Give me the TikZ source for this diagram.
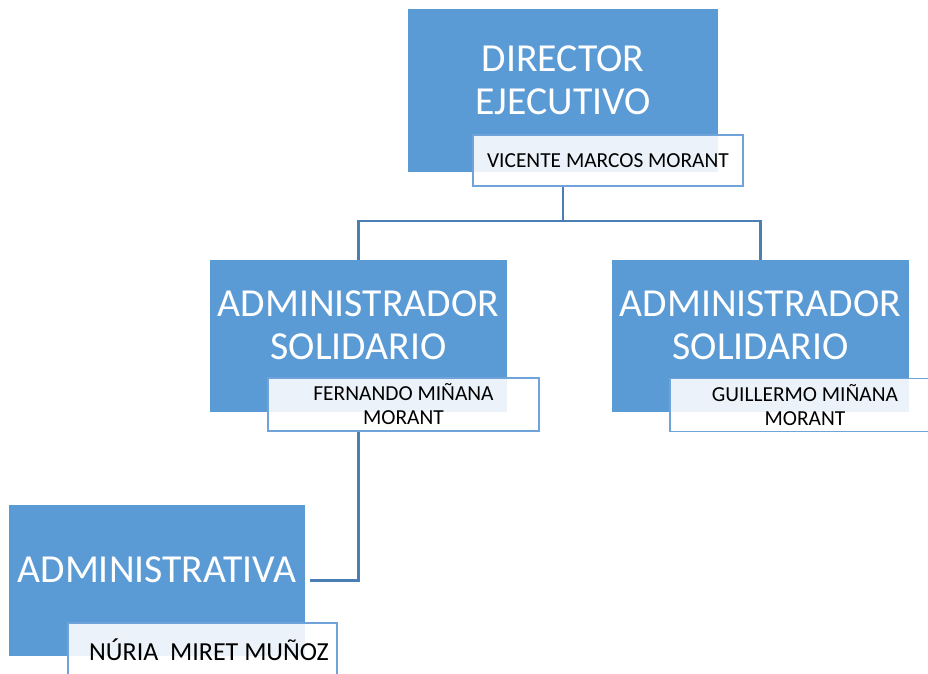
\documentclass[tikz,border=0pt]{standalone}
\usepackage{fontspec}
\setmainfont{Carlito}
\definecolor{boxblue}{HTML}{5B9BD5}
\definecolor{edgeblue}{HTML}{6FA3DA}
\definecolor{linkblue}{HTML}{4A7EB5}
\begin{document}
\begin{tikzpicture}[x=1pt,y=-1pt,
  rolebox/.style={rectangle, fill=boxblue, draw=none, inner sep=0pt},
  roletext/.style={text=white, align=center, inner sep=0pt, font=\fontsize{39.7}{43}\selectfont},
  namebox/.style={rectangle, fill=white, fill opacity=0.88, text opacity=1, draw=edgeblue, line width=1.6pt, inner sep=0pt, align=center, font=\fontsize{21.4}{24}\selectfont, text=black},
  link/.style={draw=linkblue, line width=2.4pt}]
\clip (0,0) rectangle (928,673);
\fill[white] (0,0) rectangle (928,673);
% boxes
\node[rolebox, minimum width=310pt, minimum height=163pt] (dir) at (563,90.5) {};
\node[roletext] (dirT) at (563,80) {DIRECTOR\\EJECUTIVO};
\node[namebox, minimum width=270pt, minimum height=51pt] (vic) at (608,160.5) {VICENTE MARCOS MORANT};

\node[rolebox, minimum width=297pt, minimum height=152pt] (adm1) at (358.5,336) {};
\node[roletext] (adm1T) at (358.5,325) {ADMINISTRADOR\\SOLIDARIO};
\node[namebox, minimum width=271pt, minimum height=53pt] (fer) at (403.5,404.5) {FERNANDO MIÑANA\\MORANT};

\node[rolebox, minimum width=297pt, minimum height=152pt] (adm2) at (760.5,336) {};
\node[roletext] (adm2T) at (760.5,325) {ADMINISTRADOR\\SOLIDARIO};
\node[namebox, minimum width=270pt, minimum height=53pt] (gui) at (805,405) {GUILLERMO MIÑANA\\MORANT};

\node[rolebox, minimum width=296pt, minimum height=151pt] (adva) at (157,580.5) {};
\node[roletext] (advaT) at (157,570) {ADMINISTRATIVA};
\node[namebox, minimum width=269pt, minimum height=54pt, font=\fontsize{26}{30}\selectfont] (nur) at (202.5,650) {\hspace*{13pt}NÚRIA\ \ MIRET MUÑOZ};

% connectors
\coordinate (top) at (dir.south |- vic.south);
\draw[link] (top) -- (dir.south |- 0,221) -| (adm1.north);
\draw[link] (dir.south |- 0,221) -| (adm2.north);
\draw[link] (adm1.south |- fer.south) |- ([xshift=5pt]adva.east);
\end{tikzpicture}
\end{document}
